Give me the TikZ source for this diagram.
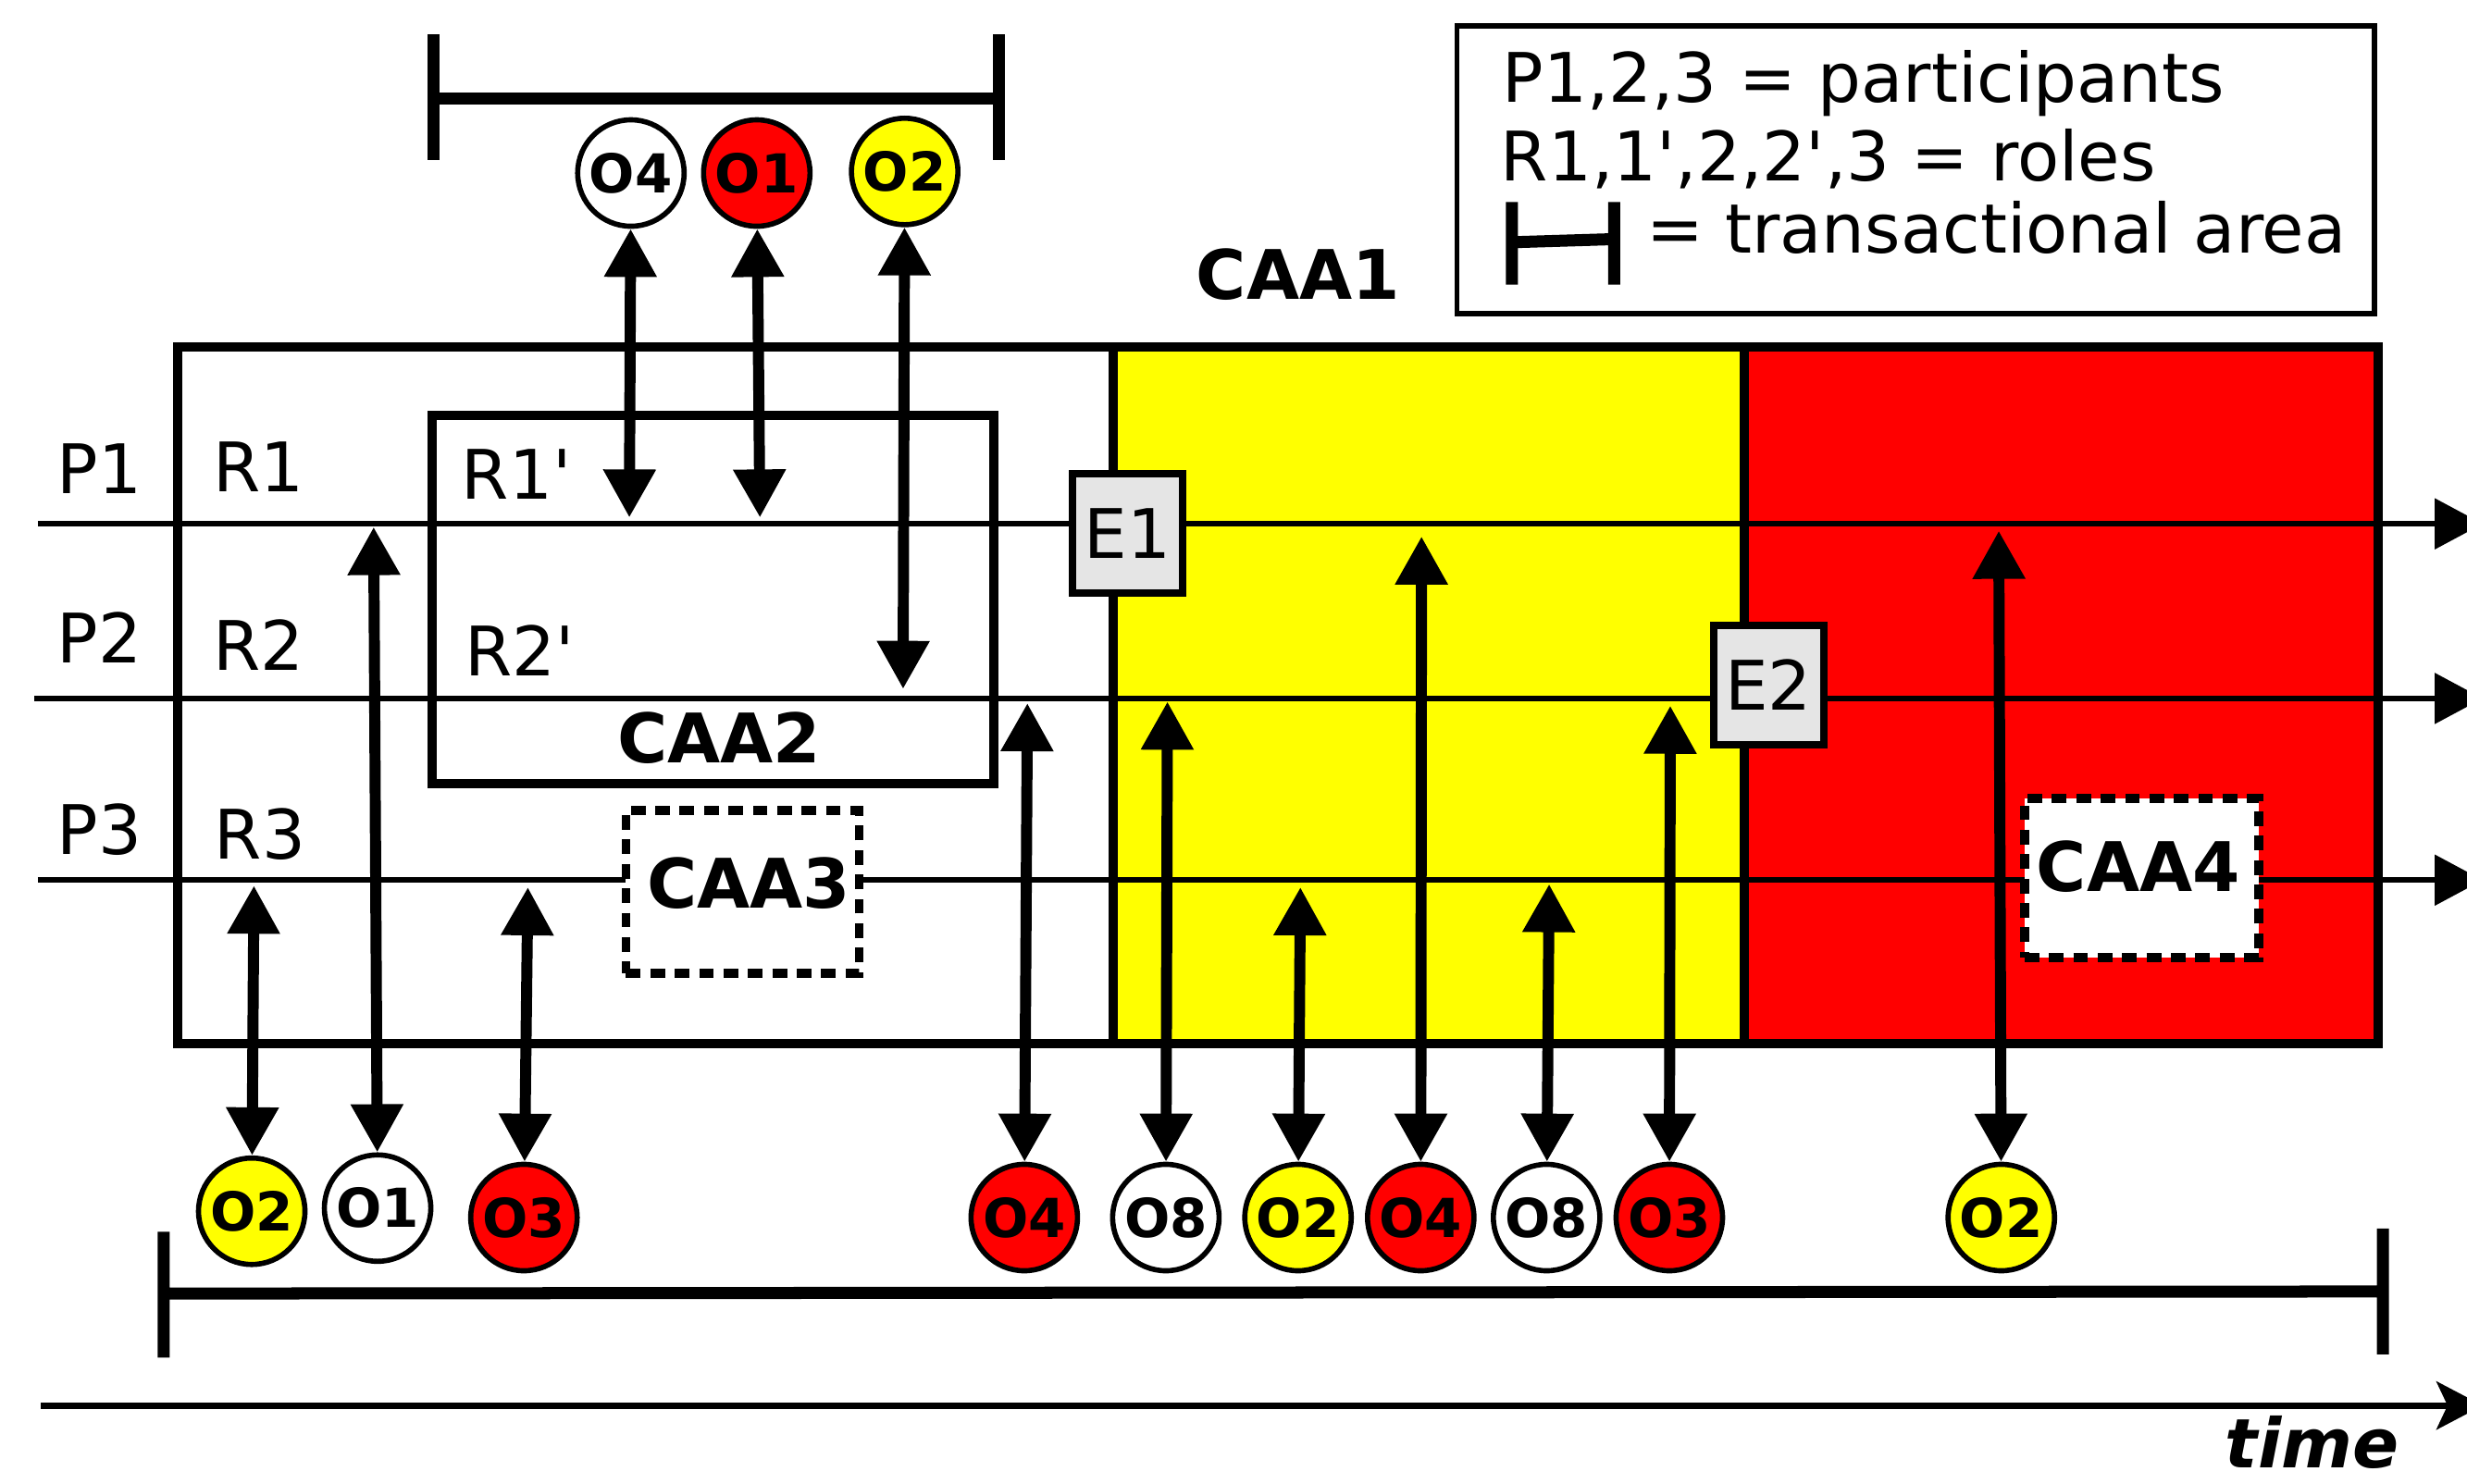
\documentclass[tikz,border=0pt]{standalone}
\usepackage{fontspec}
\setmainfont{DejaVu Sans}[Ligatures=TeXOff]
\usetikzlibrary{arrows.meta}
\definecolor{caayellow}{RGB}{255,255,0}
\definecolor{caared}{RGB}{255,0,0}
\tikzset{
  lbl/.style={inner sep=0pt,anchor=base west,font=\fontsize{21}{25}\selectfont},
  blbl/.style={inner sep=0pt,anchor=base west,font=\bfseries\fontsize{21}{25}\selectfont},
  obj/.style={circle,draw,line width=1.6pt,minimum size=1.15cm,inner sep=0pt,font=\bfseries\fontsize{16.5}{18}\selectfont},
  evt/.style={draw,fill=black!10,line width=2.3pt,minimum width=1.19cm,minimum height=1.29cm,inner sep=0pt,font=\fontsize{21}{25}\selectfont},
  frm/.style={line width=2.8pt},
  dotbox/.style={draw,fill=white,line width=2.8pt,dash pattern=on 4.5pt off 3pt},
  lane/.style={line width=1.7pt,-{Triangle[length=0.52cm,width=0.54cm]}},
  msg/.style={line width=3.4pt,<->},
  brk/.style={line width=3.7pt}
}
\begin{document}
\begin{tikzpicture}[x=0.017cm,y=-0.017cm,>={Triangle[length=0.52cm,width=0.54cm]}]
\useasboundingbox (0,0) rectangle (1568,943);
\clip (0,0) rectangle (1568,943);
% coloured areas
\fill[caayellow] (707,220) rectangle (1108,663);
\fill[caared] (1108,220) rectangle (1511,663);
% participant lines
\coordinate (p1s) at (24,333); \coordinate (p1e) at (1578,333);
\coordinate (p2s) at (22,444); \coordinate (p2e) at (1578,444);
\coordinate (p3s) at (24,559.5); \coordinate (p3e) at (1578,559.5);
\draw[lane] (p1s) -- (p1e);
\draw[lane] (p2s) -- (p2e);
\draw[lane] (p3s) -- (p3e);
% CAA frames
\draw[frm] (113,220.5) rectangle (1511.5,663.5);
\draw[frm] (707.5,220.5) -- (707.5,663.5) (1108.5,220.5) -- (1108.5,663.5);
\draw[frm] (274.5,264) rectangle (631.5,498);
\node[dotbox,minimum width=2.52cm,minimum height=1.76cm] (caa3) at (472,566.8) {};
\node[dotbox,minimum width=2.53cm,minimum height=1.72cm] (caa4) at (1361.2,558.3) {};
\node[evt] (e1) at (716.5,339) {E1};
\node[evt] (e2) at (1124,435.4) {E2};
% labels
\node[lbl] (lp1) at (36,314) {P1};
\node[lbl] (lp2) at (36,421.4) {P2};
\node[lbl] (lp3) at (36,543) {P3};
\node[lbl] (lr1) at (135,312.4) {R1};
\node[lbl] (lr2) at (135,426) {R2};
\node[lbl] (lr3) at (136,546) {R3};
\node[lbl] (lr1b) at (293,317.4) {R1'};
\node[lbl] (lr2b) at (295,429.5) {R2'};
\node[blbl] (lcaa1) at (760,190) {CAA1};
\node[blbl] (lcaa2) at (392,485) {CAA2};
\node[blbl] (lcaa3) at (411,577) {CAA3};
\node[blbl] (lcaa4) at (1294,566.6) {CAA4};
% objects
\node[obj,fill=white] (o4t) at (401,110) {O4};
\node[obj,fill=caared] (o1t) at (481,110) {O1};
\node[obj,fill=caayellow] (o2t) at (575,109) {O2};
\node[obj,fill=caayellow] (o2a) at (160,770) {O2};
\node[obj,fill=white] (o1a) at (240,768) {O1};
\node[obj,fill=caared] (o3a) at (333,774) {O3};
\node[obj,fill=caared] (o4a) at (651,774) {O4};
\node[obj,fill=white] (o8a) at (741,774) {O8};
\node[obj,fill=caayellow] (o2b) at (825,774) {O2};
\node[obj,fill=caared] (o4b) at (903,774) {O4};
\node[obj,fill=white] (o8b) at (983,774) {O8};
\node[obj,fill=caared] (o3b) at (1061,774) {O3};
\node[obj,fill=caayellow] (o2c) at (1272,774) {O2};
% exchanges
\coordinate (t1) at (400,329);
\coordinate (t2) at (483,329);
\coordinate (t3) at (574,438);
\coordinate (b1) at (161.4,563);
\coordinate (b2) at (237.5,335);
\coordinate (b3) at (335.5,564);
\coordinate (b4) at (653,447);
\coordinate (b5) at (742,446);
\coordinate (b6) at (826.5,564);
\coordinate (b7) at (903.5,341);
\coordinate (b8) at (984.6,562);
\coordinate (b9) at (1061.6,448.6);
\coordinate (b10) at (1270.4,337.4);
\draw[msg] (o4t) -- (t1);
\draw[msg] (o1t) -- (t2);
\draw[msg] (o2t) -- (t3);
\draw[msg] (o2a) -- (b1);
\draw[msg] (o1a) -- (b2);
\draw[msg] (o3a) -- (b3);
\draw[msg] (o4a) -- (b4);
\draw[msg] (o8a) -- (b5);
\draw[msg] (o2b) -- (b6);
\draw[msg] (o4b) -- (b7);
\draw[msg] (o8b) -- (b8);
\draw[msg] (o3b) -- (b9);
\draw[msg] (o2c) -- (b10);
% transactional areas
\draw[brk] (275.6,22) -- (275.6,102) (275.6,62.5) -- (635,62.5) (635,22) -- (635,102);
\draw[brk] (104,783) -- (104,863) (104,822.3) -- (1514.6,821) (1514.6,781) -- (1514.6,861);
% time axis
\coordinate (ts) at (26,893.5); \coordinate (te) at (1578,893.5);
\draw[line width=1.9pt,-{Stealth[length=0.5cm,width=0.52cm,inset=0.12cm]}] (ts) -- (te);
\node[inner sep=0pt,anchor=base west,font=\bfseries\itshape\fontsize{21}{25}\selectfont] (ltime) at (1414,933) {time};
% legend
\draw[line width=1.6pt] (926,16.5) rectangle (1509,199.5);
\node[lbl] (leg1) at (954.5,64.7) {P1,2,3 = participants};
\node[lbl] (leg2) at (953.5,114.7) {R1,1',2,2',3 = roles};
\draw[brk] (961,128.5) -- (961,181) (961,154) -- (1026,152) (1026,128.5) -- (1026,181);
\node[lbl] (leg3) at (1046,160.7) {= transactional area};
\end{tikzpicture}
\end{document}
